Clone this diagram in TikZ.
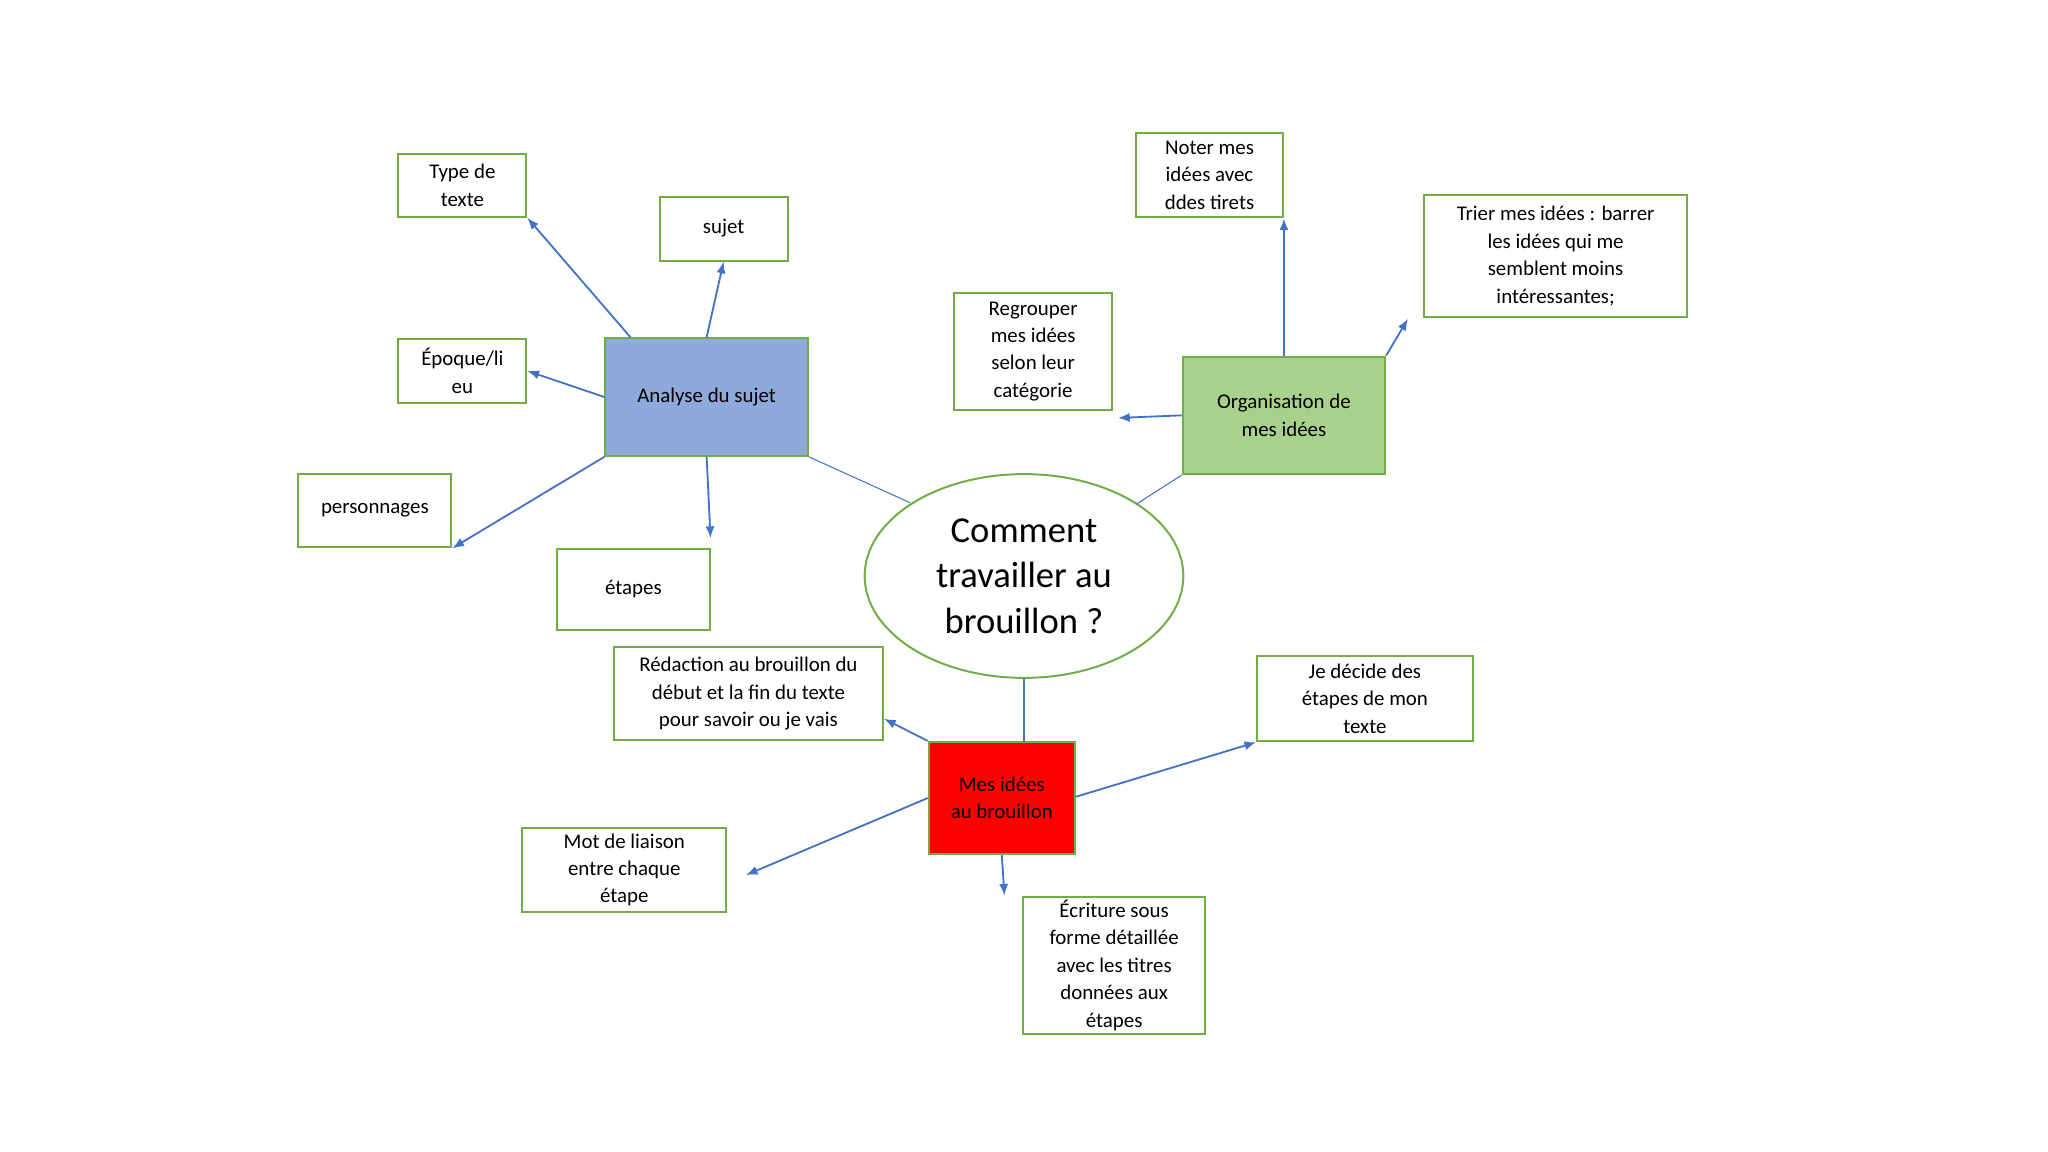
\documentclass[tikz,border=0pt]{standalone}
\usepackage{fontspec}
\setmainfont{Carlito}
\usetikzlibrary{calc,arrows.meta,shapes.geometric}
\begin{document}
\begin{tikzpicture}[x=1pt,y=-1pt,
 box/.style={draw=gbord,line width=1.5pt,fill=white,align=center,font=\fontsize{16}{21}\selectfont,inner sep=0pt},
 arr/.style={draw=ablue,line width=1.4pt,-{Latex[length=9pt,width=7pt]}},
 lnk/.style={draw=ablue,line width=0.8pt}]
\definecolor{gbord}{HTML}{70AD47}
\definecolor{ablue}{HTML}{4472C4}
\definecolor{sblue}{HTML}{8EA9DB}
\definecolor{sgreen}{HTML}{A9D18E}
\useasboundingbox (0,0) rectangle (1568,882);
\node[box,minimum width=98pt,minimum height=48pt] (type) at (354,142) {Type de\\texte};
\node[box,minimum width=98pt,minimum height=49pt] (sujet) at (554,175) {sujet};
\node[box,minimum width=98pt,minimum height=49pt] (epoque) at (354,284) {Époque/li\\eu};
\node[box,minimum width=117pt,minimum height=56pt] (pers) at (287,391) {personnages};
\node[box,minimum width=117pt,minimum height=62pt] (etapes) at (485,451) {étapes};
\node[box,fill=sblue,minimum width=155pt,minimum height=90pt] (ana) at (541,304) {Analyse du sujet};
\node[box,minimum width=113pt,minimum height=65pt] (noter) at (926,134) {Noter mes\\idées avec\\ddes tirets};
\node[box,minimum width=201pt,minimum height=93pt] (trier) at (1191,196) {Trier mes idées : barrer\\les idées qui me\\semblent moins\\intéressantes;};
\node[box,minimum width=121pt,minimum height=90pt] (regr) at (791,269) {Regrouper\\mes idées\\selon leur\\catégorie};
\node[box,fill=sgreen,minimum width=155pt,minimum height=90pt] (org) at (983,318) {Organisation de\\mes idées};
\node[draw=gbord,line width=1.5pt,ellipse,minimum width=244pt,minimum height=156pt,inner sep=0pt,align=center,font=\fontsize{28}{35}\selectfont] (q) at (784,441) {Comment\\travailler au\\brouillon ?};
\node[box,minimum width=206pt,minimum height=71pt] (red) at (573,531) {Rédaction au brouillon du\\début et la fin du texte\\pour savoir ou je vais};
\node[box,minimum width=165pt,minimum height=65pt] (dec) at (1045,535) {Je décide des\\étapes de mon\\texte};
\node[box,fill=red,minimum width=112pt,minimum height=86pt] (mes) at (767,611) {Mes idées\\au brouillon};
\node[box,minimum width=156pt,minimum height=64pt] (mot) at (478,666) {Mot de liaison\\entre chaque\\étape};
\node[box,minimum width=139pt,minimum height=105pt] (ecr) at (853,739) {Écriture sous\\forme détaillée\\avec les titres\\données aux\\étapes};
\coordinate (e1) at (544,412);
\coordinate (e2) at (1078,244);
\coordinate (e3) at (856,320);
\coordinate (e4) at (571,670);
\draw[lnk] (ana.south east) -- (697,385);
\draw[lnk] (org.south west) -- (870,386);
\draw[lnk] (q.south) -- (784,568);
\draw[arr] ($(ana.north west)+(20,0)$) -- (type.south east);
\draw[arr] (ana.north) -- (sujet.south);
\draw[arr] (ana.west) -- (epoque.east);
\draw[arr] (ana.south west) -- (pers.south east);
\draw[arr] (ana.south) -- (e1);
\draw[arr] (org.north) -- (noter.south -| org.north);
\draw[arr] (org.north east) -- (e2);
\draw[arr] (org.west) -- (e3);
\draw[arr] (mes.north west) -- ($(red.south east)+(0,-17)$);
\draw[arr] ($(mes.east)+(0,-1)$) -- (dec.south west);
\draw[arr] (mes.west) -- (e4);
\draw[arr] (mes.south) -- ($(ecr.north west -| mes.south)+(2,0)$);
\end{tikzpicture}
\end{document}
